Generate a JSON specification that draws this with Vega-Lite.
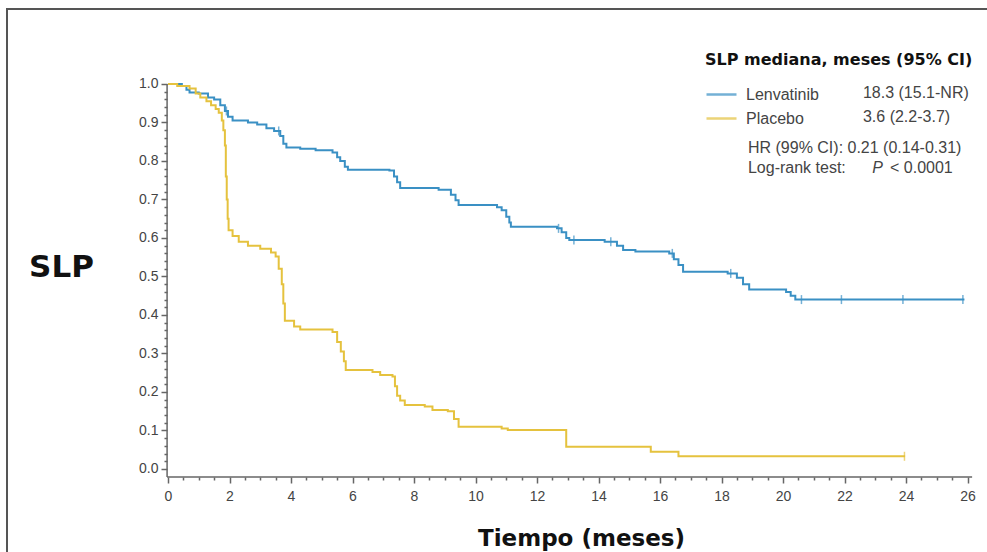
{
  "$schema": "https://vega.github.io/schema/vega-lite/v6.json",
  "width": 986,
  "height": 555,
  "autosize": {"type": "none"},
  "padding": {"left": 7, "top": 9, "right": -6, "bottom": -12},
  "background": "white",
  "config": {"view": {"stroke": "#555555", "strokeWidth": 2}, "font": "Liberation Sans"},
  "datasets": {
    "km": [
      {"arm": "Lenvatinib", "t": 0, "s": 1.0},
      {"arm": "Lenvatinib", "t": 0.45, "s": 0.995},
      {"arm": "Lenvatinib", "t": 0.6, "s": 0.985},
      {"arm": "Lenvatinib", "t": 0.7, "s": 0.978},
      {"arm": "Lenvatinib", "t": 1.0, "s": 0.975},
      {"arm": "Lenvatinib", "t": 1.3, "s": 0.965},
      {"arm": "Lenvatinib", "t": 1.5, "s": 0.96},
      {"arm": "Lenvatinib", "t": 1.7, "s": 0.945},
      {"arm": "Lenvatinib", "t": 1.85, "s": 0.93},
      {"arm": "Lenvatinib", "t": 1.95, "s": 0.915},
      {"arm": "Lenvatinib", "t": 2.1, "s": 0.905},
      {"arm": "Lenvatinib", "t": 2.6, "s": 0.9},
      {"arm": "Lenvatinib", "t": 2.9, "s": 0.895},
      {"arm": "Lenvatinib", "t": 3.2, "s": 0.885},
      {"arm": "Lenvatinib", "t": 3.45, "s": 0.878},
      {"arm": "Lenvatinib", "t": 3.65, "s": 0.865},
      {"arm": "Lenvatinib", "t": 3.75, "s": 0.845},
      {"arm": "Lenvatinib", "t": 3.85, "s": 0.835},
      {"arm": "Lenvatinib", "t": 4.3, "s": 0.832},
      {"arm": "Lenvatinib", "t": 4.8, "s": 0.828},
      {"arm": "Lenvatinib", "t": 5.35, "s": 0.822},
      {"arm": "Lenvatinib", "t": 5.5, "s": 0.81},
      {"arm": "Lenvatinib", "t": 5.6, "s": 0.8},
      {"arm": "Lenvatinib", "t": 5.75, "s": 0.785},
      {"arm": "Lenvatinib", "t": 5.85, "s": 0.777},
      {"arm": "Lenvatinib", "t": 7.2, "s": 0.775},
      {"arm": "Lenvatinib", "t": 7.35, "s": 0.76},
      {"arm": "Lenvatinib", "t": 7.45, "s": 0.745},
      {"arm": "Lenvatinib", "t": 7.55, "s": 0.73},
      {"arm": "Lenvatinib", "t": 8.8, "s": 0.725},
      {"arm": "Lenvatinib", "t": 9.2, "s": 0.712},
      {"arm": "Lenvatinib", "t": 9.35, "s": 0.698},
      {"arm": "Lenvatinib", "t": 9.45, "s": 0.686},
      {"arm": "Lenvatinib", "t": 10.7, "s": 0.68},
      {"arm": "Lenvatinib", "t": 10.85, "s": 0.672},
      {"arm": "Lenvatinib", "t": 11.0, "s": 0.655},
      {"arm": "Lenvatinib", "t": 11.1, "s": 0.64},
      {"arm": "Lenvatinib", "t": 11.15, "s": 0.629},
      {"arm": "Lenvatinib", "t": 12.65, "s": 0.625},
      {"arm": "Lenvatinib", "t": 12.8, "s": 0.615},
      {"arm": "Lenvatinib", "t": 12.95, "s": 0.6},
      {"arm": "Lenvatinib", "t": 13.05, "s": 0.595},
      {"arm": "Lenvatinib", "t": 14.2, "s": 0.59},
      {"arm": "Lenvatinib", "t": 14.6, "s": 0.58},
      {"arm": "Lenvatinib", "t": 14.8, "s": 0.569},
      {"arm": "Lenvatinib", "t": 15.2, "s": 0.565},
      {"arm": "Lenvatinib", "t": 16.3, "s": 0.56},
      {"arm": "Lenvatinib", "t": 16.45, "s": 0.545},
      {"arm": "Lenvatinib", "t": 16.6, "s": 0.53},
      {"arm": "Lenvatinib", "t": 16.75, "s": 0.512},
      {"arm": "Lenvatinib", "t": 18.2, "s": 0.508},
      {"arm": "Lenvatinib", "t": 18.5, "s": 0.497},
      {"arm": "Lenvatinib", "t": 18.7, "s": 0.48},
      {"arm": "Lenvatinib", "t": 18.9, "s": 0.466},
      {"arm": "Lenvatinib", "t": 20.1, "s": 0.46},
      {"arm": "Lenvatinib", "t": 20.25, "s": 0.45},
      {"arm": "Lenvatinib", "t": 20.4, "s": 0.44},
      {"arm": "Lenvatinib", "t": 25.9, "s": 0.44},
      {"arm": "Placebo", "t": 0, "s": 1.0},
      {"arm": "Placebo", "t": 0.3, "s": 0.995},
      {"arm": "Placebo", "t": 0.7, "s": 0.988},
      {"arm": "Placebo", "t": 0.9, "s": 0.975},
      {"arm": "Placebo", "t": 1.05, "s": 0.965},
      {"arm": "Placebo", "t": 1.25, "s": 0.955},
      {"arm": "Placebo", "t": 1.4, "s": 0.945},
      {"arm": "Placebo", "t": 1.55, "s": 0.935},
      {"arm": "Placebo", "t": 1.65, "s": 0.925},
      {"arm": "Placebo", "t": 1.75, "s": 0.905},
      {"arm": "Placebo", "t": 1.8, "s": 0.88},
      {"arm": "Placebo", "t": 1.85, "s": 0.84},
      {"arm": "Placebo", "t": 1.88, "s": 0.76},
      {"arm": "Placebo", "t": 1.91, "s": 0.7},
      {"arm": "Placebo", "t": 1.94, "s": 0.65},
      {"arm": "Placebo", "t": 1.97, "s": 0.62},
      {"arm": "Placebo", "t": 2.1, "s": 0.605},
      {"arm": "Placebo", "t": 2.3, "s": 0.59},
      {"arm": "Placebo", "t": 2.6, "s": 0.58},
      {"arm": "Placebo", "t": 3.0, "s": 0.572},
      {"arm": "Placebo", "t": 3.35, "s": 0.562},
      {"arm": "Placebo", "t": 3.5, "s": 0.552},
      {"arm": "Placebo", "t": 3.6, "s": 0.52},
      {"arm": "Placebo", "t": 3.7, "s": 0.48},
      {"arm": "Placebo", "t": 3.75, "s": 0.43},
      {"arm": "Placebo", "t": 3.8, "s": 0.385},
      {"arm": "Placebo", "t": 4.1, "s": 0.37},
      {"arm": "Placebo", "t": 4.3, "s": 0.362},
      {"arm": "Placebo", "t": 5.35, "s": 0.356},
      {"arm": "Placebo", "t": 5.5, "s": 0.33},
      {"arm": "Placebo", "t": 5.62, "s": 0.305},
      {"arm": "Placebo", "t": 5.72, "s": 0.28},
      {"arm": "Placebo", "t": 5.78, "s": 0.257},
      {"arm": "Placebo", "t": 6.65, "s": 0.252},
      {"arm": "Placebo", "t": 6.9, "s": 0.244},
      {"arm": "Placebo", "t": 7.3, "s": 0.24},
      {"arm": "Placebo", "t": 7.38, "s": 0.215},
      {"arm": "Placebo", "t": 7.45, "s": 0.19},
      {"arm": "Placebo", "t": 7.55, "s": 0.178},
      {"arm": "Placebo", "t": 7.7, "s": 0.166},
      {"arm": "Placebo", "t": 8.35, "s": 0.162},
      {"arm": "Placebo", "t": 8.6, "s": 0.153},
      {"arm": "Placebo", "t": 9.1, "s": 0.15},
      {"arm": "Placebo", "t": 9.3, "s": 0.13},
      {"arm": "Placebo", "t": 9.45, "s": 0.11},
      {"arm": "Placebo", "t": 10.85, "s": 0.105},
      {"arm": "Placebo", "t": 11.05, "s": 0.101},
      {"arm": "Placebo", "t": 12.95, "s": 0.058},
      {"arm": "Placebo", "t": 15.7, "s": 0.045},
      {"arm": "Placebo", "t": 16.6, "s": 0.033},
      {"arm": "Placebo", "t": 23.97, "s": 0.033}
    ],
    "censor": [
      {"arm": "Lenvatinib", "t": 1.9, "s": 0.93},
      {"arm": "Lenvatinib", "t": 3.6, "s": 0.878},
      {"arm": "Lenvatinib", "t": 12.7, "s": 0.625},
      {"arm": "Lenvatinib", "t": 13.2, "s": 0.595},
      {"arm": "Lenvatinib", "t": 14.4, "s": 0.59},
      {"arm": "Lenvatinib", "t": 16.4, "s": 0.56},
      {"arm": "Lenvatinib", "t": 18.3, "s": 0.508},
      {"arm": "Lenvatinib", "t": 20.6, "s": 0.44},
      {"arm": "Lenvatinib", "t": 21.9, "s": 0.44},
      {"arm": "Lenvatinib", "t": 23.9, "s": 0.44},
      {"arm": "Lenvatinib", "t": 25.85, "s": 0.44},
      {"arm": "Placebo", "t": 23.95, "s": 0.033}
    ],
    "one": [{"k": 1}]
  },
  "layer": [
    {
      "data": {"name": "km"},
      "mark": {"type": "line", "interpolate": "step-after", "strokeWidth": 2},
      "encoding": {
        "x": {
          "field": "t", "type": "quantitative",
          "scale": {"domain": [-5.236, 26.829], "nice": false, "zero": false},
          "axis": {
            "title": "Tiempo (meses)",
            "titleFont": "DejaVu Sans", "titleFontSize": 23, "titleFontWeight": "bold", "titleColor": "#111",
            "titleAlign": "center", "titleBaseline": "alphabetic", "titleX": 574, "titleY": 68,
            "offset": -87, "domain": false, "grid": false, "tickCount": 1000,
            "values": [0,0.5,1,1.5,2,2.5,3,3.5,4,4.5,5,5.5,6,6.5,7,7.5,8,8.5,9,9.5,10,10.5,11,11.5,12,12.5,13,13.5,14,14.5,15,15.5,16,16.5,17,17.5,18,18.5,19,19.5,20,20.5,21,21.5,22,22.5,23,23.5,24,24.5,25,25.5,26],
            "labelExpr": "datum.value % 2 === 0 ? format(datum.value, 'd') : ''",
            "tickSize": {"condition": {"test": "datum.value % 2 === 0", "value": 6}, "value": 3},
            "tickColor": "#666", "tickWidth": 1.5,
            "labelFont": "Liberation Sans", "labelFontSize": 14, "labelColor": "#444",
            "labelPadding": 6, "labelOverlap": false, "labelFlush": false
          }
        },
        "y": {
          "field": "s", "type": "quantitative",
          "scale": {"domain": [-0.2468, 1.1948], "nice": false, "zero": false},
          "axis": {
            "title": "SLP", "titleAngle": 0,
            "titleFont": "DejaVu Sans", "titleFontSize": 31, "titleFontWeight": "bold", "titleColor": "#111",
            "titleAlign": "center", "titleBaseline": "middle", "titleX": -106, "titleY": 258,
            "offset": -160, "domain": false, "grid": false, "tickCount": 1000,
            "values": [0,0.02,0.04,0.06,0.08,0.1,0.12,0.14,0.16,0.18,0.2,0.22,0.24,0.26,0.28,0.3,0.32,0.34,0.36,0.38,0.4,0.42,0.44,0.46,0.48,0.5,0.52,0.54,0.56,0.58,0.6,0.62,0.64,0.66,0.68,0.7,0.72,0.74,0.76,0.78,0.8,0.82,0.84,0.86,0.88,0.9,0.92,0.94,0.96,0.98,1.0],
            "labelExpr": "abs(datum.value*10 - round(datum.value*10)) < 0.001 ? format(datum.value, '.1f') : ''",
            "tickSize": {"condition": {"test": "abs(datum.value*10 - round(datum.value*10)) < 0.001", "value": 6}, "value": 3},
            "tickColor": "#666", "tickWidth": 1.5,
            "labelFont": "Liberation Sans", "labelFontSize": 14, "labelColor": "#444",
            "labelPadding": 3, "labelOverlap": false
          }
        },
        "color": {
          "field": "arm", "type": "nominal",
          "scale": {"domain": ["Lenvatinib", "Placebo"], "range": ["#3a90c4", "#e5c23e"]},
          "legend": {
            "orient": "none", "legendX": 698, "legendY": 43,
            "title": "SLP mediana, meses (95% CI)",
            "titleFont": "DejaVu Sans", "titleFontSize": 16, "titleFontWeight": "bold", "titleColor": "#111",
            "titlePadding": 15, "titleLimit": 400,
            "symbolType": "M-1.5,0L1.5,0", "symbolSize": 400, "symbolStrokeWidth": 2.5, "symbolOffset": 5,
            "labelFont": "Liberation Sans", "labelFontSize": 16, "labelColor": "#444", "labelOffset": 13,
            "rowPadding": 4, "padding": 0
          }
        }
      }
    },
    {
      "data": {"name": "censor"},
      "mark": {"type": "tick", "orient": "vertical", "size": 9, "thickness": 1.5},
      "encoding": {
        "x": {"field": "t", "type": "quantitative"},
        "y": {"field": "s", "type": "quantitative"},
        "color": {"field": "arm", "type": "nominal"}
      }
    },
    {
      "data": {"name": "one"},
      "mark": {"type": "rule", "color": "#666666", "strokeWidth": 1.5},
      "encoding": {
        "x": {"datum": -0.03, "type": "quantitative"},
        "y": {"datum": -0.021, "type": "quantitative"},
        "y2": {"datum": 1.0}
      }
    },
    {
      "data": {"name": "one"},
      "mark": {"type": "rule", "color": "#666666", "strokeWidth": 1.5},
      "encoding": {
        "x": {"datum": -0.03, "type": "quantitative"},
        "x2": {"datum": 26.15},
        "y": {"datum": -0.021, "type": "quantitative"}
      }
    },
    {
      "data": {"name": "one"},
      "mark": {"type": "text", "align": "left", "baseline": "middle", "fontSize": 16, "fill": "#444444"},
      "encoding": {"x": {"datum": 22.6, "type": "quantitative"}, "y": {"datum": 0.977, "type": "quantitative"}, "text": {"value": "18.3 (15.1-NR)"}}
    },
    {
      "data": {"name": "one"},
      "mark": {"type": "text", "align": "left", "baseline": "middle", "fontSize": 16, "fill": "#444444"},
      "encoding": {"x": {"datum": 22.6, "type": "quantitative"}, "y": {"datum": 0.914, "type": "quantitative"}, "text": {"value": "3.6 (2.2-3.7)"}}
    },
    {
      "data": {"name": "one"},
      "mark": {"type": "text", "align": "left", "baseline": "middle", "fontSize": 16, "fill": "#444444"},
      "encoding": {"x": {"datum": 18.86, "type": "quantitative"}, "y": {"datum": 0.834, "type": "quantitative"}, "text": {"value": "HR (99% CI): 0.21 (0.14-0.31)"}}
    },
    {
      "data": {"name": "one"},
      "mark": {"type": "text", "align": "left", "baseline": "middle", "fontSize": 16, "fill": "#444444"},
      "encoding": {"x": {"datum": 18.86, "type": "quantitative"}, "y": {"datum": 0.782, "type": "quantitative"}, "text": {"value": "Log-rank test:"}}
    },
    {
      "data": {"name": "one"},
      "mark": {"type": "text", "align": "left", "baseline": "middle", "fontSize": 16, "fontStyle": "italic", "fill": "#444444"},
      "encoding": {"x": {"datum": 22.9, "type": "quantitative"}, "y": {"datum": 0.782, "type": "quantitative"}, "text": {"value": "P"}}
    },
    {
      "data": {"name": "one"},
      "mark": {"type": "text", "align": "left", "baseline": "middle", "fontSize": 16, "fill": "#444444"},
      "encoding": {"x": {"datum": 23.48, "type": "quantitative"}, "y": {"datum": 0.782, "type": "quantitative"}, "text": {"value": "< 0.0001"}}
    }
  ]
}
